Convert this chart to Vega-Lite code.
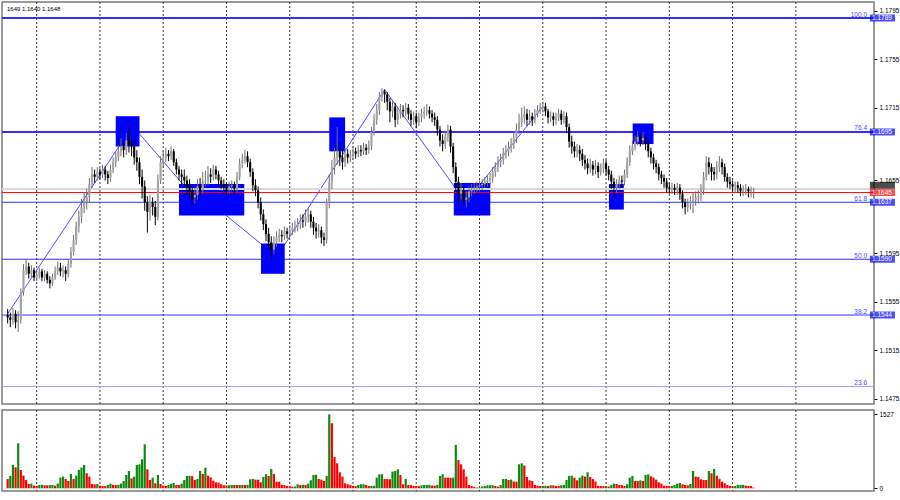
{
"$schema":"https://vega.github.io/schema/vega-lite/v6.json",
"padding":0,
"background":"white",
"spacing":2,
"config":{"view":{"stroke":"#7a7a7a","strokeWidth":1.5},"font":"Liberation Sans","axis":{"labelFont":"Liberation Sans","labelFontSize":6.5,"labelColor":"#000","tickColor":"#000","domain":false,"grid":false,"title":null,"labelOverlap":false,"labelFlush":false}},
"datasets":{
"grid":[{"i":11},{"i":35},{"i":59},{"i":83},{"i":107},{"i":131},{"i":155},{"i":179},{"i":203},{"i":227},{"i":251},{"i":275},{"i":299}],
"levels":[{"p":1.1789,"lvl":"100.0"},{"p":1.1695,"lvl":"76.4"},{"p":1.1637,"lvl":"61.8"},{"p":1.1590,"lvl":"50.0"},{"p":1.1544,"lvl":"38.2"},{"p":1.1485,"lvl":"23.6"}],
"quotes":[{"p":1.1648,"k":"ask"},{"p":1.1645,"k":"bid"}],
"blackTag":[{"p":1.1651}],
"tags":[{"p":1.1789,"k":"lvl"},{"p":1.1695,"k":"lvl"},{"p":1.1590,"k":"lvl"},{"p":1.1544,"k":"lvl"},{"p":1.1645,"k":"bid"},{"p":1.1637,"k":"lvl"}],
"info":[{"t":"1649 1.1640 1.1648"}],
"zig":[{"i1":0,"p1":1.1545,"i2":47.4,"p2":1.1700},{"i1":47.4,"p1":1.1700,"i2":74.75,"p2":1.1631},{"i1":78.5,"p1":1.1634,"i2":102.1,"p2":1.1592},{"i1":102.1,"p1":1.1592,"i2":143.0,"p2":1.1730},{"i1":143.0,"p1":1.1730,"i2":173.75,"p2":1.1637},{"i1":173.75,"p1":1.1637,"i2":203.0,"p2":1.1716}],
"boxes":[{"i1":41.0,"i2":50.0,"p1":1.1683,"p2":1.1708},{"i1":65.0,"i2":89.75,"p1":1.1626,"p2":1.1652},{"i1":96.1,"i2":105.1,"p1":1.1578,"p2":1.1603},{"i1":122.0,"i2":128.0,"p1":1.1679,"p2":1.1707},{"i1":169.25,"i2":183.1,"p1":1.1626,"p2":1.1653},{"i1":228.1,"i2":233.75,"p1":1.1631,"p2":1.1652},{"i1":237.1,"i2":245.0,"p1":1.1685,"p2":1.1702}],
"bars":[
{"i":0,"o":1.1544,"h":1.1549,"l":1.1537,"c":1.1542,"v":190,"g":0},
{"i":1,"o":1.1542,"h":1.1546,"l":1.1534,"c":1.1540,"v":255,"g":1},
{"i":2,"o":1.1540,"h":1.1550,"l":1.1536,"c":1.1545,"v":482,"g":1},
{"i":3,"o":1.1545,"h":1.1548,"l":1.1533,"c":1.1538,"v":433,"g":0},
{"i":4,"o":1.1538,"h":1.1547,"l":1.1530,"c":1.1540,"v":929,"g":1},
{"i":5,"o":1.1540,"h":1.1566,"l":1.1537,"c":1.1563,"v":378,"g":0},
{"i":6,"o":1.1563,"h":1.1586,"l":1.1560,"c":1.1581,"v":261,"g":0},
{"i":7,"o":1.1581,"h":1.1590,"l":1.1577,"c":1.1584,"v":172,"g":0},
{"i":8,"o":1.1584,"h":1.1587,"l":1.1574,"c":1.1578,"v":89,"g":0},
{"i":9,"o":1.1578,"h":1.1585,"l":1.1575,"c":1.1581,"v":96,"g":1},
{"i":10,"o":1.1581,"h":1.1583,"l":1.1572,"c":1.1575,"v":55,"g":0},
{"i":11,"o":1.1575,"h":1.1580,"l":1.1572,"c":1.1577,"v":48,"g":0},
{"i":12,"o":1.1577,"h":1.1583,"l":1.1574,"c":1.1580,"v":69,"g":1},
{"i":13,"o":1.1580,"h":1.1582,"l":1.1572,"c":1.1575,"v":72,"g":1},
{"i":14,"o":1.1575,"h":1.1581,"l":1.1572,"c":1.1578,"v":62,"g":0},
{"i":15,"o":1.1578,"h":1.1580,"l":1.1570,"c":1.1573,"v":60,"g":0},
{"i":16,"o":1.1573,"h":1.1576,"l":1.1566,"c":1.1570,"v":66,"g":1},
{"i":17,"o":1.1570,"h":1.1578,"l":1.1568,"c":1.1575,"v":70,"g":1},
{"i":18,"o":1.1575,"h":1.1584,"l":1.1573,"c":1.1580,"v":55,"g":0},
{"i":19,"o":1.1580,"h":1.1588,"l":1.1577,"c":1.1583,"v":96,"g":1},
{"i":20,"o":1.1583,"h":1.1587,"l":1.1576,"c":1.1580,"v":220,"g":1},
{"i":21,"o":1.1580,"h":1.1585,"l":1.1575,"c":1.1581,"v":241,"g":1},
{"i":22,"o":1.1581,"h":1.1584,"l":1.1572,"c":1.1578,"v":193,"g":0},
{"i":23,"o":1.1578,"h":1.1590,"l":1.1575,"c":1.1586,"v":151,"g":0},
{"i":24,"o":1.1586,"h":1.1600,"l":1.1583,"c":1.1596,"v":296,"g":1},
{"i":25,"o":1.1596,"h":1.1610,"l":1.1593,"c":1.1606,"v":193,"g":0},
{"i":26,"o":1.1606,"h":1.1621,"l":1.1602,"c":1.1617,"v":261,"g":1},
{"i":27,"o":1.1617,"h":1.1630,"l":1.1612,"c":1.1625,"v":378,"g":1},
{"i":28,"o":1.1625,"h":1.1640,"l":1.1620,"c":1.1633,"v":427,"g":1},
{"i":29,"o":1.1633,"h":1.1645,"l":1.1628,"c":1.1637,"v":482,"g":1},
{"i":30,"o":1.1637,"h":1.1648,"l":1.1631,"c":1.1641,"v":310,"g":0},
{"i":31,"o":1.1641,"h":1.1657,"l":1.1637,"c":1.1652,"v":241,"g":0},
{"i":32,"o":1.1652,"h":1.1666,"l":1.1649,"c":1.1660,"v":89,"g":0},
{"i":33,"o":1.1660,"h":1.1664,"l":1.1653,"c":1.1658,"v":83,"g":0},
{"i":34,"o":1.1658,"h":1.1666,"l":1.1655,"c":1.1662,"v":89,"g":1},
{"i":35,"o":1.1662,"h":1.1665,"l":1.1656,"c":1.1660,"v":55,"g":0},
{"i":36,"o":1.1660,"h":1.1668,"l":1.1657,"c":1.1664,"v":48,"g":0},
{"i":37,"o":1.1664,"h":1.1667,"l":1.1655,"c":1.1660,"v":45,"g":0},
{"i":38,"o":1.1660,"h":1.1663,"l":1.1652,"c":1.1657,"v":69,"g":1},
{"i":39,"o":1.1657,"h":1.1668,"l":1.1654,"c":1.1664,"v":96,"g":1},
{"i":40,"o":1.1664,"h":1.1674,"l":1.1661,"c":1.1670,"v":69,"g":0},
{"i":41,"o":1.1670,"h":1.1679,"l":1.1666,"c":1.1674,"v":66,"g":0},
{"i":42,"o":1.1674,"h":1.1684,"l":1.1671,"c":1.1679,"v":72,"g":1},
{"i":43,"o":1.1679,"h":1.1690,"l":1.1675,"c":1.1683,"v":96,"g":1},
{"i":44,"o":1.1683,"h":1.1688,"l":1.1674,"c":1.1680,"v":151,"g":1},
{"i":45,"o":1.1680,"h":1.1694,"l":1.1676,"c":1.1688,"v":275,"g":1},
{"i":46,"o":1.1688,"h":1.1699,"l":1.1678,"c":1.1685,"v":358,"g":1},
{"i":47,"o":1.1685,"h":1.1692,"l":1.1675,"c":1.1683,"v":206,"g":0},
{"i":48,"o":1.1683,"h":1.1688,"l":1.1668,"c":1.1674,"v":241,"g":1},
{"i":49,"o":1.1674,"h":1.1680,"l":1.1663,"c":1.1670,"v":482,"g":1},
{"i":50,"o":1.1670,"h":1.1674,"l":1.1652,"c":1.1658,"v":495,"g":1},
{"i":51,"o":1.1658,"h":1.1664,"l":1.1640,"c":1.1650,"v":599,"g":1},
{"i":52,"o":1.1650,"h":1.1655,"l":1.1630,"c":1.1637,"v":908,"g":1},
{"i":53,"o":1.1637,"h":1.1642,"l":1.1612,"c":1.1629,"v":392,"g":0},
{"i":54,"o":1.1629,"h":1.1643,"l":1.1622,"c":1.1637,"v":172,"g":0},
{"i":55,"o":1.1637,"h":1.1641,"l":1.1626,"c":1.1633,"v":220,"g":1},
{"i":56,"o":1.1633,"h":1.1638,"l":1.1618,"c":1.1625,"v":103,"g":0},
{"i":57,"o":1.1625,"h":1.1660,"l":1.1622,"c":1.1655,"v":275,"g":1},
{"i":58,"o":1.1655,"h":1.1675,"l":1.1652,"c":1.1670,"v":89,"g":0},
{"i":59,"o":1.1670,"h":1.1679,"l":1.1666,"c":1.1674,"v":55,"g":0},
{"i":60,"o":1.1674,"h":1.1682,"l":1.1670,"c":1.1677,"v":48,"g":0},
{"i":61,"o":1.1677,"h":1.1680,"l":1.1671,"c":1.1675,"v":69,"g":1},
{"i":62,"o":1.1675,"h":1.1683,"l":1.1672,"c":1.1679,"v":96,"g":1},
{"i":63,"o":1.1679,"h":1.1681,"l":1.1667,"c":1.1670,"v":110,"g":1},
{"i":64,"o":1.1670,"h":1.1673,"l":1.1660,"c":1.1664,"v":69,"g":0},
{"i":65,"o":1.1664,"h":1.1667,"l":1.1655,"c":1.1660,"v":66,"g":0},
{"i":66,"o":1.1660,"h":1.1664,"l":1.1651,"c":1.1658,"v":96,"g":1},
{"i":67,"o":1.1658,"h":1.1664,"l":1.1649,"c":1.1655,"v":172,"g":1},
{"i":68,"o":1.1655,"h":1.1659,"l":1.1643,"c":1.1650,"v":255,"g":1},
{"i":69,"o":1.1650,"h":1.1656,"l":1.1640,"c":1.1646,"v":258,"g":1},
{"i":70,"o":1.1646,"h":1.1651,"l":1.1635,"c":1.1641,"v":250,"g":0},
{"i":71,"o":1.1641,"h":1.1649,"l":1.1636,"c":1.1643,"v":172,"g":0},
{"i":72,"o":1.1643,"h":1.1656,"l":1.1639,"c":1.1650,"v":193,"g":1},
{"i":73,"o":1.1650,"h":1.1657,"l":1.1642,"c":1.1647,"v":358,"g":1},
{"i":74,"o":1.1647,"h":1.1662,"l":1.1644,"c":1.1654,"v":296,"g":0},
{"i":75,"o":1.1654,"h":1.1663,"l":1.1650,"c":1.1655,"v":427,"g":1},
{"i":76,"o":1.1655,"h":1.1667,"l":1.1651,"c":1.1660,"v":261,"g":0},
{"i":77,"o":1.1660,"h":1.1665,"l":1.1653,"c":1.1658,"v":227,"g":0},
{"i":78,"o":1.1658,"h":1.1668,"l":1.1655,"c":1.1664,"v":158,"g":0},
{"i":79,"o":1.1664,"h":1.1667,"l":1.1656,"c":1.1660,"v":124,"g":0},
{"i":80,"o":1.1660,"h":1.1663,"l":1.1651,"c":1.1655,"v":117,"g":0},
{"i":81,"o":1.1655,"h":1.1658,"l":1.1648,"c":1.1652,"v":83,"g":0},
{"i":82,"o":1.1652,"h":1.1656,"l":1.1645,"c":1.1649,"v":62,"g":0},
{"i":83,"o":1.1649,"h":1.1653,"l":1.1642,"c":1.1647,"v":55,"g":0},
{"i":84,"o":1.1647,"h":1.1654,"l":1.1644,"c":1.1650,"v":62,"g":1},
{"i":85,"o":1.1650,"h":1.1655,"l":1.1646,"c":1.1651,"v":69,"g":1},
{"i":86,"o":1.1651,"h":1.1654,"l":1.1643,"c":1.1648,"v":68,"g":0},
{"i":87,"o":1.1648,"h":1.1662,"l":1.1645,"c":1.1658,"v":70,"g":1},
{"i":88,"o":1.1658,"h":1.1673,"l":1.1655,"c":1.1669,"v":69,"g":0},
{"i":89,"o":1.1669,"h":1.1677,"l":1.1665,"c":1.1672,"v":70,"g":1},
{"i":90,"o":1.1672,"h":1.1680,"l":1.1669,"c":1.1675,"v":69,"g":0},
{"i":91,"o":1.1675,"h":1.1679,"l":1.1666,"c":1.1670,"v":72,"g":1},
{"i":92,"o":1.1670,"h":1.1673,"l":1.1658,"c":1.1662,"v":186,"g":1},
{"i":93,"o":1.1662,"h":1.1665,"l":1.1646,"c":1.1651,"v":193,"g":1},
{"i":94,"o":1.1651,"h":1.1656,"l":1.1642,"c":1.1647,"v":179,"g":0},
{"i":95,"o":1.1647,"h":1.1650,"l":1.1632,"c":1.1637,"v":176,"g":0},
{"i":96,"o":1.1637,"h":1.1641,"l":1.1622,"c":1.1627,"v":124,"g":0},
{"i":97,"o":1.1627,"h":1.1631,"l":1.1614,"c":1.1619,"v":234,"g":1},
{"i":98,"o":1.1619,"h":1.1623,"l":1.1605,"c":1.1611,"v":289,"g":1},
{"i":99,"o":1.1611,"h":1.1616,"l":1.1598,"c":1.1604,"v":255,"g":0},
{"i":100,"o":1.1604,"h":1.1609,"l":1.1590,"c":1.1598,"v":399,"g":1},
{"i":101,"o":1.1598,"h":1.1609,"l":1.1594,"c":1.1604,"v":296,"g":0},
{"i":102,"o":1.1604,"h":1.1613,"l":1.1600,"c":1.1608,"v":138,"g":0},
{"i":103,"o":1.1608,"h":1.1615,"l":1.1604,"c":1.1610,"v":136,"g":0},
{"i":104,"o":1.1610,"h":1.1614,"l":1.1604,"c":1.1609,"v":69,"g":0},
{"i":105,"o":1.1609,"h":1.1617,"l":1.1606,"c":1.1613,"v":66,"g":0},
{"i":106,"o":1.1613,"h":1.1616,"l":1.1607,"c":1.1611,"v":48,"g":0},
{"i":107,"o":1.1611,"h":1.1618,"l":1.1608,"c":1.1614,"v":45,"g":0},
{"i":108,"o":1.1614,"h":1.1620,"l":1.1610,"c":1.1616,"v":34,"g":0},
{"i":109,"o":1.1616,"h":1.1622,"l":1.1612,"c":1.1617,"v":36,"g":1},
{"i":110,"o":1.1617,"h":1.1624,"l":1.1613,"c":1.1619,"v":83,"g":1},
{"i":111,"o":1.1619,"h":1.1627,"l":1.1615,"c":1.1622,"v":69,"g":0},
{"i":112,"o":1.1622,"h":1.1627,"l":1.1616,"c":1.1621,"v":72,"g":1},
{"i":113,"o":1.1621,"h":1.1631,"l":1.1617,"c":1.1626,"v":69,"g":0},
{"i":114,"o":1.1626,"h":1.1632,"l":1.1620,"c":1.1627,"v":96,"g":1},
{"i":115,"o":1.1627,"h":1.1630,"l":1.1616,"c":1.1621,"v":165,"g":1},
{"i":116,"o":1.1621,"h":1.1625,"l":1.1610,"c":1.1616,"v":275,"g":1},
{"i":117,"o":1.1616,"h":1.1620,"l":1.1607,"c":1.1613,"v":278,"g":1},
{"i":118,"o":1.1613,"h":1.1619,"l":1.1608,"c":1.1614,"v":193,"g":0},
{"i":119,"o":1.1614,"h":1.1617,"l":1.1603,"c":1.1608,"v":179,"g":0},
{"i":120,"o":1.1608,"h":1.1612,"l":1.1601,"c":1.1606,"v":151,"g":0},
{"i":121,"o":1.1606,"h":1.1640,"l":1.1603,"c":1.1637,"v":255,"g":1},
{"i":122,"o":1.1637,"h":1.1660,"l":1.1632,"c":1.1654,"v":1527,"g":1},
{"i":123,"o":1.1654,"h":1.1672,"l":1.1648,"c":1.1666,"v":1342,"g":0},
{"i":124,"o":1.1666,"h":1.1682,"l":1.1660,"c":1.1674,"v":647,"g":0},
{"i":125,"o":1.1674,"h":1.1699,"l":1.1668,"c":1.1679,"v":516,"g":0},
{"i":126,"o":1.1679,"h":1.1686,"l":1.1667,"c":1.1674,"v":330,"g":0},
{"i":127,"o":1.1674,"h":1.1680,"l":1.1664,"c":1.1670,"v":241,"g":0},
{"i":128,"o":1.1670,"h":1.1682,"l":1.1666,"c":1.1677,"v":103,"g":0},
{"i":129,"o":1.1677,"h":1.1681,"l":1.1669,"c":1.1674,"v":83,"g":0},
{"i":130,"o":1.1674,"h":1.1680,"l":1.1670,"c":1.1676,"v":69,"g":0},
{"i":131,"o":1.1676,"h":1.1683,"l":1.1672,"c":1.1679,"v":48,"g":0},
{"i":132,"o":1.1679,"h":1.1682,"l":1.1673,"c":1.1677,"v":45,"g":0},
{"i":133,"o":1.1677,"h":1.1684,"l":1.1674,"c":1.1680,"v":69,"g":1},
{"i":134,"o":1.1680,"h":1.1684,"l":1.1675,"c":1.1679,"v":83,"g":1},
{"i":135,"o":1.1679,"h":1.1686,"l":1.1676,"c":1.1682,"v":85,"g":1},
{"i":136,"o":1.1682,"h":1.1685,"l":1.1676,"c":1.1680,"v":69,"g":0},
{"i":137,"o":1.1680,"h":1.1688,"l":1.1677,"c":1.1683,"v":48,"g":0},
{"i":138,"o":1.1683,"h":1.1699,"l":1.1680,"c":1.1695,"v":50,"g":1},
{"i":139,"o":1.1695,"h":1.1710,"l":1.1692,"c":1.1705,"v":52,"g":1},
{"i":140,"o":1.1705,"h":1.1718,"l":1.1701,"c":1.1713,"v":220,"g":1},
{"i":141,"o":1.1713,"h":1.1728,"l":1.1709,"c":1.1724,"v":289,"g":1},
{"i":142,"o":1.1724,"h":1.1731,"l":1.1720,"c":1.1728,"v":290,"g":1},
{"i":143,"o":1.1728,"h":1.1730,"l":1.1719,"c":1.1726,"v":193,"g":0},
{"i":144,"o":1.1726,"h":1.1728,"l":1.1713,"c":1.1720,"v":190,"g":0},
{"i":145,"o":1.1720,"h":1.1723,"l":1.1703,"c":1.1712,"v":188,"g":0},
{"i":146,"o":1.1712,"h":1.1721,"l":1.1707,"c":1.1716,"v":344,"g":1},
{"i":147,"o":1.1716,"h":1.1719,"l":1.1699,"c":1.1705,"v":358,"g":1},
{"i":148,"o":1.1705,"h":1.1715,"l":1.1701,"c":1.1710,"v":392,"g":1},
{"i":149,"o":1.1710,"h":1.1718,"l":1.1706,"c":1.1713,"v":275,"g":0},
{"i":150,"o":1.1713,"h":1.1717,"l":1.1707,"c":1.1712,"v":83,"g":0},
{"i":151,"o":1.1712,"h":1.1719,"l":1.1708,"c":1.1715,"v":193,"g":1},
{"i":152,"o":1.1715,"h":1.1718,"l":1.1705,"c":1.1710,"v":69,"g":0},
{"i":153,"o":1.1710,"h":1.1713,"l":1.1700,"c":1.1705,"v":66,"g":0},
{"i":154,"o":1.1705,"h":1.1712,"l":1.1701,"c":1.1708,"v":48,"g":0},
{"i":155,"o":1.1708,"h":1.1711,"l":1.1698,"c":1.1703,"v":45,"g":0},
{"i":156,"o":1.1703,"h":1.1711,"l":1.1700,"c":1.1707,"v":44,"g":0},
{"i":157,"o":1.1707,"h":1.1714,"l":1.1703,"c":1.1710,"v":62,"g":1},
{"i":158,"o":1.1710,"h":1.1716,"l":1.1706,"c":1.1712,"v":69,"g":1},
{"i":159,"o":1.1712,"h":1.1718,"l":1.1708,"c":1.1713,"v":70,"g":1},
{"i":160,"o":1.1713,"h":1.1716,"l":1.1706,"c":1.1710,"v":72,"g":1},
{"i":161,"o":1.1710,"h":1.1713,"l":1.1703,"c":1.1707,"v":55,"g":0},
{"i":162,"o":1.1707,"h":1.1711,"l":1.1700,"c":1.1705,"v":53,"g":0},
{"i":163,"o":1.1705,"h":1.1708,"l":1.1692,"c":1.1697,"v":69,"g":1},
{"i":164,"o":1.1697,"h":1.1700,"l":1.1683,"c":1.1688,"v":255,"g":1},
{"i":165,"o":1.1688,"h":1.1693,"l":1.1679,"c":1.1685,"v":289,"g":1},
{"i":166,"o":1.1685,"h":1.1696,"l":1.1681,"c":1.1691,"v":220,"g":0},
{"i":167,"o":1.1691,"h":1.1701,"l":1.1687,"c":1.1697,"v":218,"g":0},
{"i":168,"o":1.1697,"h":1.1700,"l":1.1678,"c":1.1683,"v":215,"g":0},
{"i":169,"o":1.1683,"h":1.1686,"l":1.1661,"c":1.1666,"v":220,"g":1},
{"i":170,"o":1.1666,"h":1.1670,"l":1.1646,"c":1.1654,"v":894,"g":1},
{"i":171,"o":1.1654,"h":1.1658,"l":1.1637,"c":1.1644,"v":585,"g":0},
{"i":172,"o":1.1644,"h":1.1653,"l":1.1639,"c":1.1647,"v":495,"g":0},
{"i":173,"o":1.1647,"h":1.1651,"l":1.1634,"c":1.1639,"v":392,"g":0},
{"i":174,"o":1.1639,"h":1.1646,"l":1.1633,"c":1.1641,"v":241,"g":0},
{"i":175,"o":1.1641,"h":1.1650,"l":1.1637,"c":1.1646,"v":69,"g":0},
{"i":176,"o":1.1646,"h":1.1652,"l":1.1642,"c":1.1647,"v":48,"g":0},
{"i":177,"o":1.1647,"h":1.1653,"l":1.1644,"c":1.1649,"v":28,"g":0},
{"i":178,"o":1.1649,"h":1.1654,"l":1.1645,"c":1.1650,"v":14,"g":0},
{"i":179,"o":1.1650,"h":1.1655,"l":1.1646,"c":1.1651,"v":16,"g":1},
{"i":180,"o":1.1651,"h":1.1656,"l":1.1647,"c":1.1652,"v":34,"g":1},
{"i":181,"o":1.1652,"h":1.1658,"l":1.1649,"c":1.1654,"v":48,"g":1},
{"i":182,"o":1.1654,"h":1.1659,"l":1.1650,"c":1.1655,"v":62,"g":1},
{"i":183,"o":1.1655,"h":1.1661,"l":1.1652,"c":1.1657,"v":63,"g":1},
{"i":184,"o":1.1657,"h":1.1666,"l":1.1653,"c":1.1662,"v":64,"g":1},
{"i":185,"o":1.1662,"h":1.1670,"l":1.1658,"c":1.1666,"v":48,"g":0},
{"i":186,"o":1.1666,"h":1.1675,"l":1.1662,"c":1.1670,"v":34,"g":0},
{"i":187,"o":1.1670,"h":1.1677,"l":1.1666,"c":1.1672,"v":69,"g":1},
{"i":188,"o":1.1672,"h":1.1682,"l":1.1668,"c":1.1677,"v":193,"g":1},
{"i":189,"o":1.1677,"h":1.1684,"l":1.1673,"c":1.1679,"v":195,"g":1},
{"i":190,"o":1.1679,"h":1.1687,"l":1.1675,"c":1.1682,"v":172,"g":0},
{"i":191,"o":1.1682,"h":1.1690,"l":1.1678,"c":1.1685,"v":179,"g":1},
{"i":192,"o":1.1685,"h":1.1695,"l":1.1681,"c":1.1690,"v":138,"g":0},
{"i":193,"o":1.1690,"h":1.1702,"l":1.1686,"c":1.1697,"v":136,"g":0},
{"i":194,"o":1.1697,"h":1.1710,"l":1.1693,"c":1.1703,"v":495,"g":1},
{"i":195,"o":1.1703,"h":1.1715,"l":1.1699,"c":1.1707,"v":516,"g":1},
{"i":196,"o":1.1707,"h":1.1716,"l":1.1702,"c":1.1710,"v":468,"g":0},
{"i":197,"o":1.1710,"h":1.1714,"l":1.1700,"c":1.1705,"v":234,"g":0},
{"i":198,"o":1.1705,"h":1.1713,"l":1.1701,"c":1.1708,"v":165,"g":0},
{"i":199,"o":1.1708,"h":1.1711,"l":1.1700,"c":1.1705,"v":151,"g":0},
{"i":200,"o":1.1705,"h":1.1714,"l":1.1702,"c":1.1710,"v":69,"g":0},
{"i":201,"o":1.1710,"h":1.1717,"l":1.1707,"c":1.1713,"v":55,"g":0},
{"i":202,"o":1.1713,"h":1.1719,"l":1.1710,"c":1.1715,"v":48,"g":0},
{"i":203,"o":1.1715,"h":1.1720,"l":1.1711,"c":1.1716,"v":50,"g":1},
{"i":204,"o":1.1716,"h":1.1719,"l":1.1708,"c":1.1712,"v":52,"g":1},
{"i":205,"o":1.1712,"h":1.1714,"l":1.1702,"c":1.1707,"v":48,"g":0},
{"i":206,"o":1.1707,"h":1.1712,"l":1.1703,"c":1.1708,"v":62,"g":1},
{"i":207,"o":1.1708,"h":1.1711,"l":1.1700,"c":1.1705,"v":60,"g":0},
{"i":208,"o":1.1705,"h":1.1711,"l":1.1701,"c":1.1707,"v":48,"g":0},
{"i":209,"o":1.1707,"h":1.1714,"l":1.1704,"c":1.1710,"v":46,"g":0},
{"i":210,"o":1.1710,"h":1.1713,"l":1.1701,"c":1.1705,"v":62,"g":1},
{"i":211,"o":1.1705,"h":1.1712,"l":1.1702,"c":1.1708,"v":69,"g":1},
{"i":212,"o":1.1708,"h":1.1711,"l":1.1694,"c":1.1699,"v":172,"g":1},
{"i":213,"o":1.1699,"h":1.1702,"l":1.1682,"c":1.1687,"v":255,"g":1},
{"i":214,"o":1.1687,"h":1.1692,"l":1.1677,"c":1.1683,"v":261,"g":1},
{"i":215,"o":1.1683,"h":1.1687,"l":1.1674,"c":1.1679,"v":220,"g":0},
{"i":216,"o":1.1679,"h":1.1685,"l":1.1674,"c":1.1680,"v":165,"g":0},
{"i":217,"o":1.1680,"h":1.1684,"l":1.1671,"c":1.1677,"v":220,"g":1},
{"i":218,"o":1.1677,"h":1.1681,"l":1.1667,"c":1.1672,"v":261,"g":1},
{"i":219,"o":1.1672,"h":1.1676,"l":1.1664,"c":1.1669,"v":241,"g":0},
{"i":220,"o":1.1669,"h":1.1673,"l":1.1660,"c":1.1665,"v":330,"g":1},
{"i":221,"o":1.1665,"h":1.1673,"l":1.1661,"c":1.1668,"v":234,"g":0},
{"i":222,"o":1.1668,"h":1.1671,"l":1.1659,"c":1.1664,"v":193,"g":0},
{"i":223,"o":1.1664,"h":1.1672,"l":1.1660,"c":1.1667,"v":138,"g":0},
{"i":224,"o":1.1667,"h":1.1670,"l":1.1657,"c":1.1662,"v":48,"g":0},
{"i":225,"o":1.1662,"h":1.1669,"l":1.1659,"c":1.1665,"v":46,"g":0},
{"i":226,"o":1.1665,"h":1.1673,"l":1.1661,"c":1.1669,"v":45,"g":0},
{"i":227,"o":1.1669,"h":1.1672,"l":1.1659,"c":1.1664,"v":48,"g":1},
{"i":228,"o":1.1664,"h":1.1667,"l":1.1655,"c":1.1660,"v":34,"g":0},
{"i":229,"o":1.1660,"h":1.1663,"l":1.1648,"c":1.1654,"v":69,"g":1},
{"i":230,"o":1.1654,"h":1.1657,"l":1.1641,"c":1.1649,"v":96,"g":1},
{"i":231,"o":1.1649,"h":1.1656,"l":1.1645,"c":1.1652,"v":89,"g":0},
{"i":232,"o":1.1652,"h":1.1659,"l":1.1648,"c":1.1655,"v":69,"g":0},
{"i":233,"o":1.1655,"h":1.1659,"l":1.1649,"c":1.1654,"v":66,"g":0},
{"i":234,"o":1.1654,"h":1.1664,"l":1.1651,"c":1.1660,"v":48,"g":0},
{"i":235,"o":1.1660,"h":1.1674,"l":1.1657,"c":1.1670,"v":83,"g":1},
{"i":236,"o":1.1670,"h":1.1684,"l":1.1667,"c":1.1679,"v":220,"g":1},
{"i":237,"o":1.1679,"h":1.1688,"l":1.1676,"c":1.1683,"v":255,"g":1},
{"i":238,"o":1.1683,"h":1.1692,"l":1.1680,"c":1.1687,"v":151,"g":0},
{"i":239,"o":1.1687,"h":1.1696,"l":1.1684,"c":1.1691,"v":150,"g":0},
{"i":240,"o":1.1691,"h":1.1694,"l":1.1683,"c":1.1688,"v":165,"g":1},
{"i":241,"o":1.1688,"h":1.1695,"l":1.1684,"c":1.1690,"v":151,"g":0},
{"i":242,"o":1.1690,"h":1.1693,"l":1.1680,"c":1.1685,"v":275,"g":1},
{"i":243,"o":1.1685,"h":1.1688,"l":1.1674,"c":1.1679,"v":289,"g":1},
{"i":244,"o":1.1679,"h":1.1682,"l":1.1669,"c":1.1674,"v":248,"g":0},
{"i":245,"o":1.1674,"h":1.1677,"l":1.1664,"c":1.1669,"v":220,"g":0},
{"i":246,"o":1.1669,"h":1.1672,"l":1.1661,"c":1.1666,"v":179,"g":0},
{"i":247,"o":1.1666,"h":1.1669,"l":1.1655,"c":1.1660,"v":124,"g":0},
{"i":248,"o":1.1660,"h":1.1663,"l":1.1652,"c":1.1657,"v":96,"g":0},
{"i":249,"o":1.1657,"h":1.1660,"l":1.1649,"c":1.1654,"v":55,"g":0},
{"i":250,"o":1.1654,"h":1.1657,"l":1.1645,"c":1.1649,"v":48,"g":0},
{"i":251,"o":1.1649,"h":1.1653,"l":1.1644,"c":1.1648,"v":46,"g":0},
{"i":252,"o":1.1648,"h":1.1653,"l":1.1644,"c":1.1649,"v":48,"g":1},
{"i":253,"o":1.1649,"h":1.1652,"l":1.1643,"c":1.1647,"v":69,"g":1},
{"i":254,"o":1.1647,"h":1.1653,"l":1.1643,"c":1.1649,"v":96,"g":1},
{"i":255,"o":1.1649,"h":1.1652,"l":1.1639,"c":1.1644,"v":110,"g":1},
{"i":256,"o":1.1644,"h":1.1647,"l":1.1632,"c":1.1637,"v":83,"g":0},
{"i":257,"o":1.1637,"h":1.1640,"l":1.1627,"c":1.1633,"v":69,"g":0},
{"i":258,"o":1.1633,"h":1.1640,"l":1.1629,"c":1.1636,"v":62,"g":0},
{"i":259,"o":1.1636,"h":1.1642,"l":1.1631,"c":1.1637,"v":89,"g":1},
{"i":260,"o":1.1637,"h":1.1645,"l":1.1628,"c":1.1639,"v":358,"g":1},
{"i":261,"o":1.1639,"h":1.1646,"l":1.1634,"c":1.1641,"v":241,"g":0},
{"i":262,"o":1.1641,"h":1.1647,"l":1.1636,"c":1.1642,"v":234,"g":0},
{"i":263,"o":1.1642,"h":1.1652,"l":1.1638,"c":1.1647,"v":186,"g":0},
{"i":264,"o":1.1647,"h":1.1662,"l":1.1643,"c":1.1658,"v":172,"g":0},
{"i":265,"o":1.1658,"h":1.1675,"l":1.1655,"c":1.1670,"v":170,"g":0},
{"i":266,"o":1.1670,"h":1.1674,"l":1.1660,"c":1.1666,"v":358,"g":1},
{"i":267,"o":1.1666,"h":1.1669,"l":1.1655,"c":1.1662,"v":310,"g":0},
{"i":268,"o":1.1662,"h":1.1666,"l":1.1655,"c":1.1660,"v":399,"g":1},
{"i":269,"o":1.1660,"h":1.1671,"l":1.1656,"c":1.1666,"v":261,"g":0},
{"i":270,"o":1.1666,"h":1.1675,"l":1.1662,"c":1.1670,"v":193,"g":0},
{"i":271,"o":1.1670,"h":1.1673,"l":1.1660,"c":1.1666,"v":138,"g":0},
{"i":272,"o":1.1666,"h":1.1669,"l":1.1654,"c":1.1658,"v":103,"g":0},
{"i":273,"o":1.1658,"h":1.1661,"l":1.1649,"c":1.1654,"v":69,"g":0},
{"i":274,"o":1.1654,"h":1.1658,"l":1.1648,"c":1.1652,"v":48,"g":0},
{"i":275,"o":1.1652,"h":1.1655,"l":1.1646,"c":1.1650,"v":41,"g":0},
{"i":276,"o":1.1650,"h":1.1654,"l":1.1645,"c":1.1651,"v":48,"g":1},
{"i":277,"o":1.1651,"h":1.1654,"l":1.1645,"c":1.1649,"v":69,"g":1},
{"i":278,"o":1.1649,"h":1.1652,"l":1.1642,"c":1.1646,"v":70,"g":1},
{"i":279,"o":1.1646,"h":1.1651,"l":1.1642,"c":1.1647,"v":72,"g":1},
{"i":280,"o":1.1647,"h":1.1652,"l":1.1643,"c":1.1648,"v":55,"g":0},
{"i":281,"o":1.1648,"h":1.1650,"l":1.1641,"c":1.1646,"v":48,"g":0},
{"i":282,"o":1.1646,"h":1.1650,"l":1.1641,"c":1.1647,"v":46,"g":0},
{"i":283,"o":1.1647,"h":1.1649,"l":1.1640,"c":1.1648,"v":14,"g":0}
]},
"vconcat":[
{
"width":872,"height":402,
"layer":[
{"data":{"name":"grid"},"mark":{"type":"rule","color":"#222222","strokeDash":[2,2],"strokeWidth":0.9},
 "encoding":{"x":{"field":"i","type":"quantitative","scale":{"domain":[-0.25,326.75],"nice":false,"zero":false},"axis":null}}},
{"data":{"name":"levels"},"mark":{"type":"rule"},
 "encoding":{"y":{"field":"p","type":"quantitative","scale":{"domain":[1.14706,1.18022],"nice":false,"zero":false},
   "axis":{"orient":"right","values":[1.1475,1.1495,1.1515,1.1535,1.1555,1.1575,1.1595,1.1615,1.1655,1.1675,1.1715,1.1735,1.1755,1.1775,1.1795],"format":".4f","tickSize":3,"labelPadding":2,"labelBaseline":"middle"}},
  "color":{"condition":{"test":"datum.lvl=='23.6'","value":"#9c9cff"},"value":"#2f2fff"},
  "strokeWidth":{"condition":{"test":"datum.lvl=='100.0'||datum.lvl=='76.4'","value":2},"value":1}}},
{"data":{"name":"zig"},"mark":{"type":"rule","color":"#4d4dff","strokeWidth":1},
 "encoding":{"x":{"field":"i1","type":"quantitative","scale":{"domain":[-0.25,326.75],"nice":false,"zero":false},"axis":null},"x2":{"field":"i2"},
  "y":{"field":"p1","type":"quantitative","scale":{"domain":[1.14706,1.18022],"nice":false,"zero":false}},"y2":{"field":"p2"}}},
{"data":{"name":"boxes"},"mark":{"type":"rect","color":"#0000ff"},
 "encoding":{"x":{"field":"i1","type":"quantitative","scale":{"domain":[-0.25,326.75],"nice":false,"zero":false},"axis":null},"x2":{"field":"i2"},
  "y":{"field":"p1","type":"quantitative","scale":{"domain":[1.14706,1.18022],"nice":false,"zero":false}},"y2":{"field":"p2"}}},
{"data":{"name":"quotes"},"mark":{"type":"rule"},
 "encoding":{"y":{"field":"p","type":"quantitative","scale":{"domain":[1.14706,1.18022],"nice":false,"zero":false}},
  "color":{"condition":{"test":"datum.k=='bid'","value":"#ff0000"},"value":"#d9d9d9"},
  "strokeWidth":{"condition":{"test":"datum.k=='bid'","value":1},"value":2}}},
{"data":{"name":"bars"},"mark":{"type":"rule","strokeWidth":1},
 "encoding":{"x":{"field":"i","type":"quantitative","scale":{"domain":[-0.25,326.75],"nice":false,"zero":false},"axis":null},
  "y":{"field":"l","type":"quantitative","scale":{"domain":[1.14706,1.18022],"nice":false,"zero":false}},"y2":{"field":"h"},
  "color":{"condition":{"test":"datum.c>=datum.o","value":"#6e6e6e"},"value":"#000000"}}},
{"data":{"name":"bars"},"mark":{"type":"bar","size":2.1},
 "encoding":{"x":{"field":"i","type":"quantitative","scale":{"domain":[-0.25,326.75],"nice":false,"zero":false},"axis":null},
  "y":{"field":"o","type":"quantitative","scale":{"domain":[1.14706,1.18022],"nice":false,"zero":false}},"y2":{"field":"c"},
  "color":{"condition":{"test":"datum.c>=datum.o","value":"#a2a2a2"},"value":"#000000"}}},
{"data":{"name":"levels"},"mark":{"type":"text","align":"right","baseline":"bottom","dy":-0.5,"fontSize":6.5,"color":"#4646ff"},
 "encoding":{"x":{"datum":326.0,"type":"quantitative","scale":{"domain":[-0.25,326.75],"nice":false,"zero":false},"axis":null},
  "y":{"field":"p","type":"quantitative","scale":{"domain":[1.14706,1.18022],"nice":false,"zero":false}},
  "text":{"field":"lvl","type":"nominal"}}},
{"data":{"name":"blackTag"},"mark":{"type":"tick","orient":"horizontal","size":25,"thickness":7,"color":"#000000"},
 "encoding":{"x":{"datum":331.85,"type":"quantitative","scale":{"domain":[-0.25,326.75],"nice":false,"zero":false},"axis":null},
  "y":{"field":"p","type":"quantitative","scale":{"domain":[1.14706,1.18022],"nice":false,"zero":false}}}},
{"data":{"name":"tags"},"mark":{"type":"tick","orient":"horizontal","size":25,"thickness":7},
 "encoding":{"x":{"datum":331.85,"type":"quantitative","scale":{"domain":[-0.25,326.75],"nice":false,"zero":false},"axis":null},
  "y":{"field":"p","type":"quantitative","scale":{"domain":[1.14706,1.18022],"nice":false,"zero":false}},
  "color":{"condition":{"test":"datum.k=='bid'","value":"#ff0000"},"value":"#0000ff"}}},
{"data":{"name":"tags"},"mark":{"type":"text","align":"left","baseline":"middle","fontSize":6.5,"color":"#ffffff"},
 "encoding":{"x":{"datum":327.9,"type":"quantitative","scale":{"domain":[-0.25,326.75],"nice":false,"zero":false},"axis":null},
  "y":{"field":"p","type":"quantitative","scale":{"domain":[1.14706,1.18022],"nice":false,"zero":false}},
  "text":{"field":"p","type":"quantitative","format":".4f"}}},
{"data":{"name":"info"},"mark":{"type":"text","align":"left","baseline":"middle","fontSize":6,"color":"#000000"},
 "encoding":{"x":{"datum":-0.25,"type":"quantitative","scale":{"domain":[-0.25,326.75],"nice":false,"zero":false},"axis":null},
  "y":{"datum":1.17964,"type":"quantitative","scale":{"domain":[1.14706,1.18022],"nice":false,"zero":false}},
  "text":{"field":"t","type":"nominal"}}}
]
},
{
"width":872,"height":81,
"layer":[
{"data":{"name":"grid"},"mark":{"type":"rule","color":"#222222","strokeDash":[2,2],"strokeWidth":0.9},
 "encoding":{"x":{"field":"i","type":"quantitative","scale":{"domain":[-0.25,326.75],"nice":false,"zero":false},"axis":null}}},
{"data":{"name":"bars"},"mark":{"type":"bar","size":2.2},
 "encoding":{"x":{"field":"i","type":"quantitative","scale":{"domain":[-0.25,326.75],"nice":false,"zero":false},
   "axis":{"orient":"bottom","values":[3,19,35,51,67,83,99,115,131,147,163,179,195,211,227,243,259,275],"labelExpr":"['5 Aug 16:00','6 Aug 08:00','7 Aug 00:00','7 Aug 16:00','8 Aug 08:00','11 Aug 00:00','11 Aug 16:00','12 Aug 08:00','13 Aug 00:00','13 Aug 16:00','14 Aug 08:00','15 Aug 00:00','15 Aug 16:00','18 Aug 08:00','19 Aug 00:00','19 Aug 16:00','20 Aug 08:00','21 Aug 00:00'][round((datum.value-3)/16)]","labelAlign":"left","tickSize":3,"labelPadding":2}},
  "y":{"field":"v","type":"quantitative","scale":{"domain":[-56,1616],"nice":false,"zero":false},
   "axis":{"orient":"right","values":[0,1527],"format":"d","tickSize":3,"labelPadding":2,"labelBaseline":"middle"}},
  "y2":{"datum":0},
  "color":{"condition":{"test":"datum.g==1","value":"#0f8a0f"},"value":"#ff0000"}}}
]
}
]
}
